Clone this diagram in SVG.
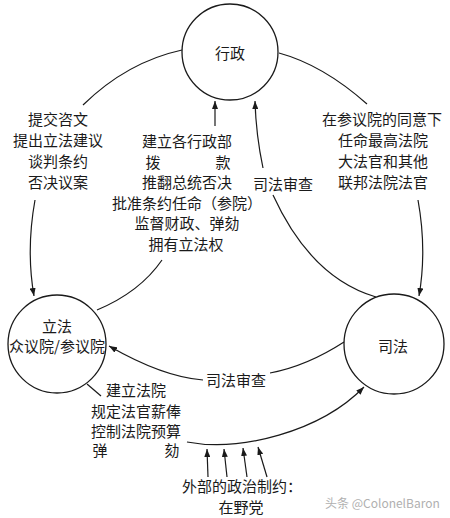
<svg xmlns="http://www.w3.org/2000/svg" width="450" height="518" viewBox="0 0 450 518">
<style>
.n{fill:#fff;stroke:#1a1a1a;stroke-width:1.3}
.t{font-family:"Noto Sans CJK SC","Noto Sans",sans-serif;font-size:15px;fill:#1a1a1a;dominant-baseline:central;text-anchor:middle}
.c{fill:none;stroke:#1a1a1a;stroke-width:1.2}
.a{marker-end:url(#ah)}
.wm{font-family:"Noto Sans CJK SC","Noto Sans",sans-serif;font-size:12px;fill:#b0b0b0;dominant-baseline:central}
</style>
<defs>
<marker id="ah" markerWidth="8" markerHeight="6" refX="8" refY="3" orient="auto" markerUnits="userSpaceOnUse">
<path d="M0,0 L8,3 L0,6 z" fill="#1a1a1a"/>
</marker>
</defs>
<rect width="450" height="518" fill="#fff"/>
<g id="connectors">
<path class="c" d="M182,50 Q127,62 83,105"/>
<path class="c a" d="M35,200 Q26,250 34,296"/>
<path class="c" d="M279,53 Q323,65 367,104"/>
<path class="c a" d="M418,200 Q427,250 419,296"/>
<path class="c" d="M97,310 Q140,292 162,260"/>
<path class="c a" d="M215,126 L215,101"/>
<path class="c" d="M376,297 Q311,278 273,195"/>
<path class="c a" d="M263,168 Q256,135 255,101"/>
<path class="c" d="M344,342 Q307,366 270,373"/>
<path class="c a" d="M203,380 Q163,377 109,346"/>
<path class="c" d="M87,384 L101,396"/>
<path class="c a" d="M187,442 C240,452 320,432 364,387"/>
<path class="c a" d="M208,477 L207,449"/>
<path class="c a" d="M227,477 L224,449"/>
<path class="c a" d="M247,477 L243,448"/>
<path class="c a" d="M267,477 L258,447"/>
</g>
<g id="executive">
<circle class="n" cx="230" cy="52" r="48"/>
<text class="t" x="230" y="52">行政</text>
</g>
<g id="legislative">
<circle class="n" cx="57" cy="344" r="49"/>
<text class="t" x="57" y="325">立法</text>
<text class="t" x="57" y="345">众议院/参议院</text>
</g>
<g id="judicial">
<circle class="n" cx="394" cy="344" r="50"/>
<text class="t" x="393" y="345">司法</text>
</g>
<g id="label-exec-to-leg">
<text class="t" x="58" y="118">提交咨文</text>
<text class="t" x="58" y="139">提出立法建议</text>
<text class="t" x="58" y="160">谈判条约</text>
<text class="t" x="58" y="181">否决议案</text>
</g>
<g id="label-leg-to-exec">
<text class="t" x="187" y="140">建立各行政部</text>
<text class="t" y="161"><tspan x="153">拨</tspan><tspan x="223">款</tspan></text>
<text class="t" x="187" y="181">推翻总统否决</text>
<text class="t" x="187" y="202">批准条约任命（参院）</text>
<text class="t" x="187" y="222">监督财政、弹劾</text>
<text class="t" x="186" y="243">拥有立法权</text>
</g>
<g id="label-exec-to-jud">
<text class="t" x="382" y="118">在参议院的同意下</text>
<text class="t" x="383" y="139">任命最高法院</text>
<text class="t" x="383" y="160">大法官和其他</text>
<text class="t" x="383" y="181">联邦法院法官</text>
</g>
<g id="label-jud-to-exec">
<text class="t" x="283" y="183">司法审查</text>
</g>
<g id="label-jud-to-leg">
<text class="t" x="236" y="379">司法审查</text>
</g>
<g id="label-leg-to-jud">
<text class="t" x="136" y="389">建立法院</text>
<text class="t" x="136" y="410">规定法官薪俸</text>
<text class="t" x="136" y="430">控制法院预算</text>
<text class="t" y="449"><tspan x="100">弹</tspan><tspan x="172">劾</tspan></text>
</g>
<g id="external">
<text class="t" x="182" y="485" style="text-anchor:start">外部的政治制约：</text>
<text class="t" x="241" y="506">在野党</text>
</g>
<text class="wm" x="325" y="502">头条 @ColonelBaron</text>
</svg>
